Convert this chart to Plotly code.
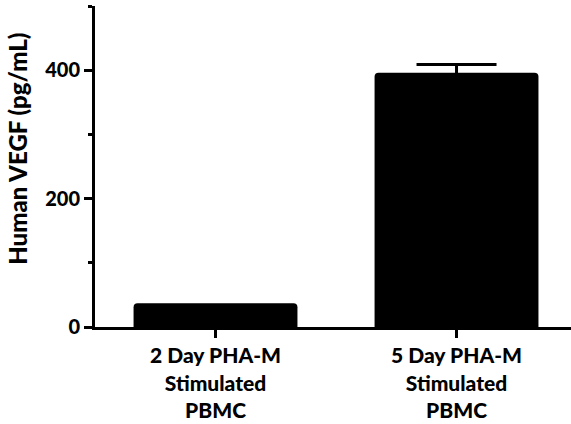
import plotly.graph_objects as go

categories = ["2 Day PHA-M<br>Stimulated<br>PBMC", "5 Day PHA-M<br>Stimulated<br>PBMC"]
values = [37, 396]
errors = [0, 13]
y_title = "Human VEGF (pg/mL)"

fig = go.Figure()
for i in range(len(values)):
    # lower error arm kept equal to the upper one; it falls inside the black bar
    err = dict(type="data", array=[errors[i]], symmetric=True,
               color="black", thickness=3, width=40, visible=errors[i] > 0)
    fig.add_trace(go.Bar(
        x=[i], y=[values[i]], width=0.68,
        marker=dict(color="black", line=dict(width=0)),
        error_y=err,
    ))

font_family = "Lato"
xfnt = dict(family=font_family, size=21, weight=900, color="black")
yfnt = dict(family=font_family, size=20, weight=900, color="black")
tfnt = dict(family=font_family, size=24, weight=900, color="black")
fig.update_layout(
    width=571, height=424,
    margin=dict(l=95, r=0, t=6, b=97),
    plot_bgcolor="white", paper_bgcolor="white",
    barmode="overlay",
    barcornerradius=4,
    showlegend=False,
    font=xfnt,
)
fig.update_xaxes(
    range=[-0.5, 1.475], automargin=False,
    tickmode="array", tickvals=[0, 1], ticktext=categories,
    showline=True, linecolor="black", linewidth=3,
    ticks="outside", ticklen=8, tickwidth=3, tickcolor="black",
    showgrid=False, zeroline=False,
    tickfont=xfnt,
)
fig.update_yaxes(
    range=[0, 500], automargin=False,
    tickmode="array", tickvals=[0, 200, 400],
    showline=True, linecolor="black", linewidth=3,
    ticks="outside", ticklen=8, tickwidth=3, tickcolor="black",
    minor=dict(tickvals=[100, 300, 500], ticklen=4, tickwidth=3, tickcolor="black", ticks="outside"),
    showgrid=False, zeroline=False,
    tickfont=yfnt,
)
fig.add_annotation(
    text=y_title, textangle=-90, showarrow=False,
    xref="paper", yref="paper", x=-0.162, y=0.555,
    xanchor="center", yanchor="middle", font=tfnt,
)
fig.write_html("out.html", config={"displayModeBar": False},
               post_script="document.body.style.margin='0';")
